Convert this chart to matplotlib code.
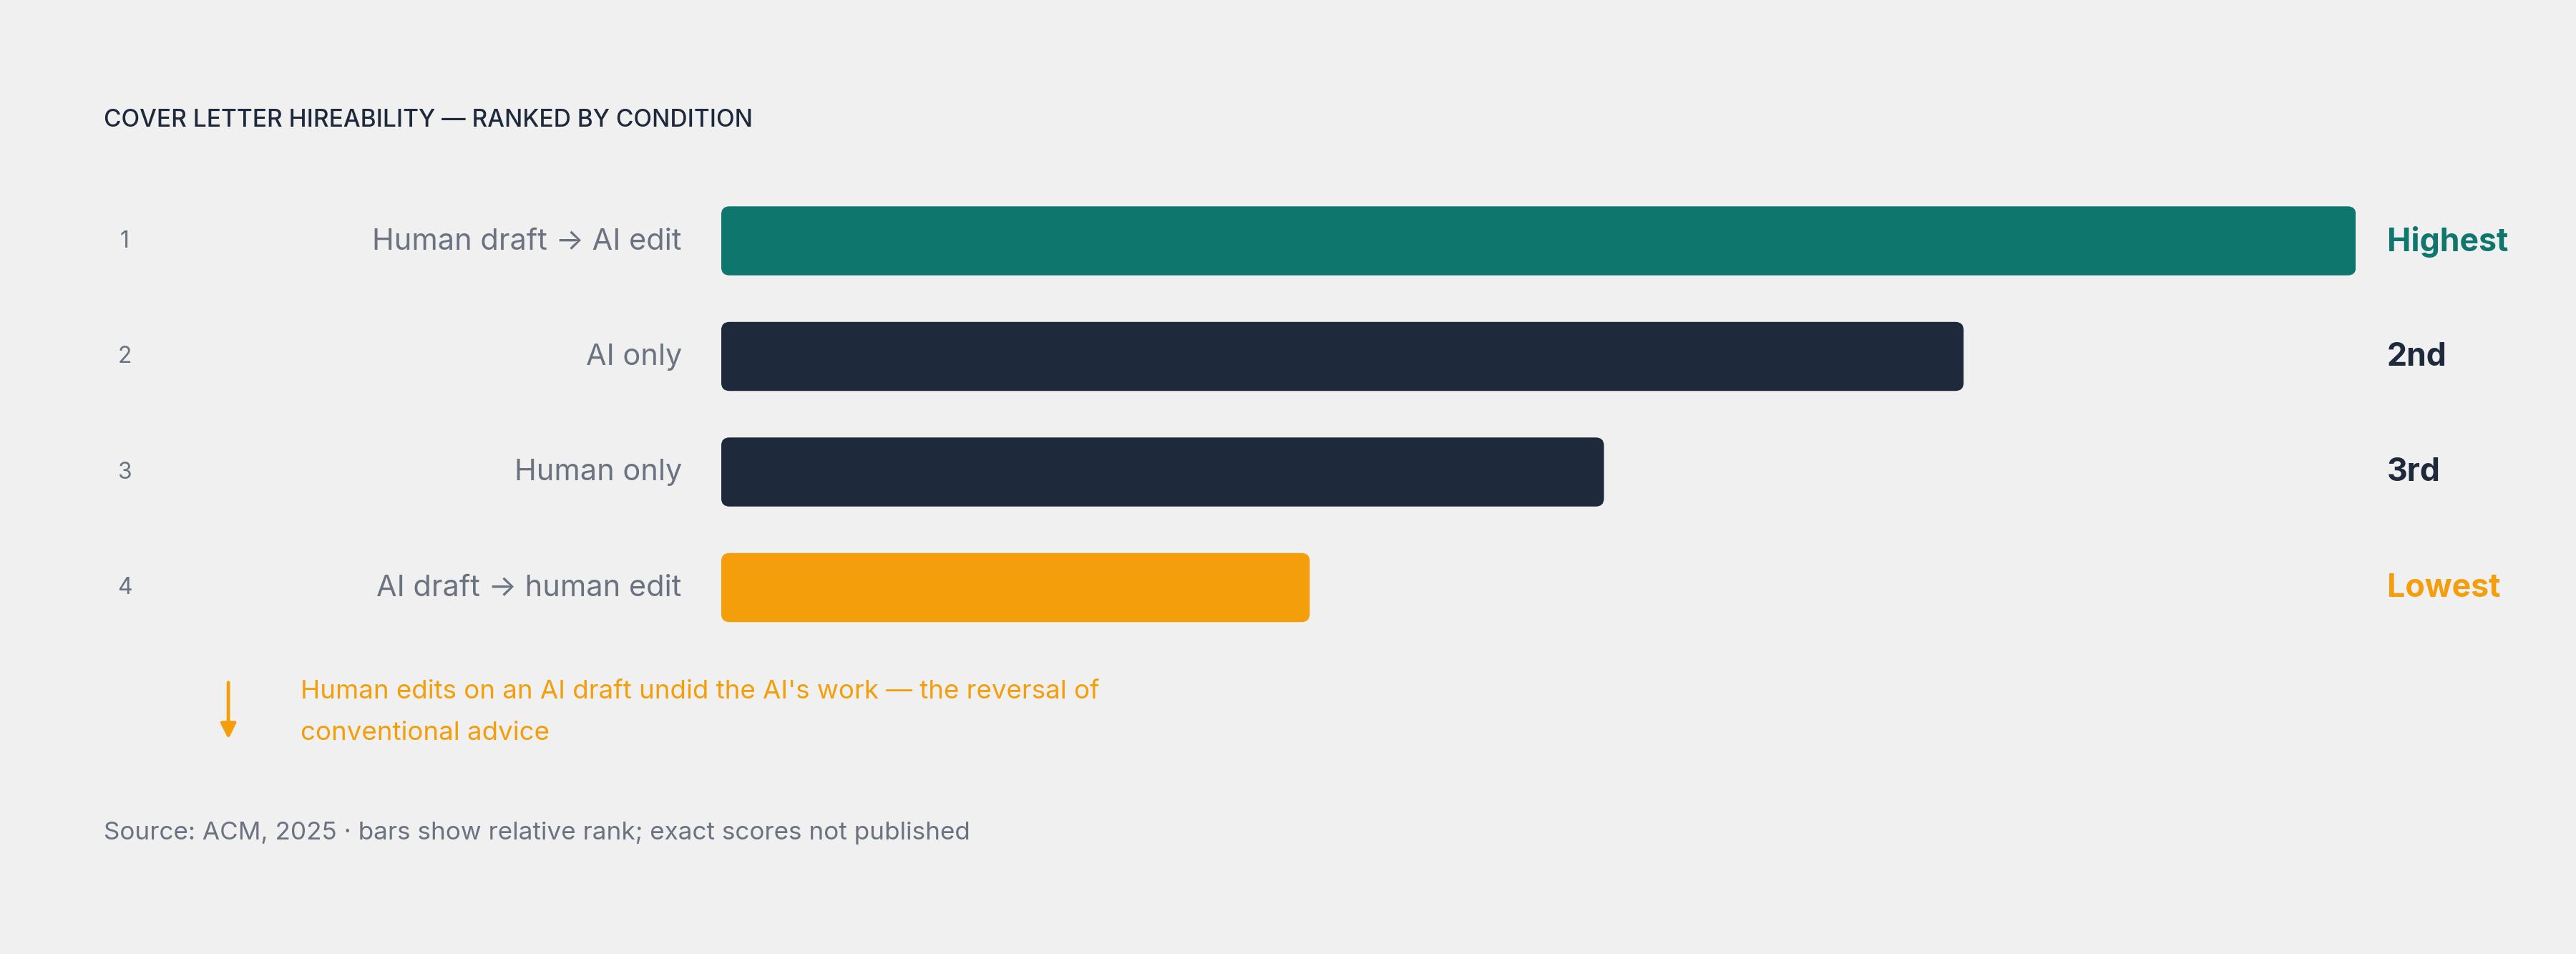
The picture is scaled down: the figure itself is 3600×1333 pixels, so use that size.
import matplotlib
matplotlib.use("Agg")
import matplotlib.pyplot as plt
from matplotlib.patches import FancyBboxPatch

plt.rcParams['font.family'] = ['Inter', 'DejaVu Sans']

ranks = ["1", "2", "3", "4"]
conditions = ["Human draft → AI edit", "AI only", "Human only", "AI draft → human edit"]
values = [100, 76, 54, 36]
right_labels = ["Highest", "2nd", "3rd", "Lowest"]
colors = ["#0F766E", "#1E293B", "#1E293B", "#F59E0B"]
label_colors = ["#0F766E", "#1E293B", "#1E293B", "#F59E0B"]

W, H = 1568, 581
fig = plt.figure(figsize=(15.68, 5.81), dpi=229.6)
fig.patch.set_facecolor("#F0F0F0")

# overlay axes in pixel coords
ov = fig.add_axes([0, 0, 1, 1])
ov.set_xlim(0, W); ov.set_ylim(H, 0); ov.axis("off")

# bar axes: x from 439 to 1434 px, rows centred 147..358
row_step = (358 - 147) / 3
top = 147 - row_step / 2
bottom = 358 + row_step / 2
ax = fig.add_axes([439 / W, 1 - bottom / H, (1434 - 439) / W, (bottom - top) / H])
ax.set_xlim(0, 100)
ax.set_ylim(3.5, -0.5)
ax.axis("off")
ax.patch.set_alpha(0)

bh = 42 / row_step
bars = ax.barh(range(len(values)), values, height=bh, color=colors)
xpx = 100 / (1434 - 439)
ypx = 1 / row_step
for b, c in zip(bars, colors):
    b.set_visible(False)
    p = FancyBboxPatch((b.get_x(), b.get_y()), b.get_width(), b.get_height(),
                       boxstyle="round,pad=0,rounding_size=0.5",
                       mutation_aspect=ypx / xpx, facecolor=c, edgecolor="none")
    ax.add_patch(p)

for i in range(len(values)):
    y = 147 + i * row_step
    ov.text(76, y, ranks[i], ha="center", va="center", fontsize=10, color="#6B7280")
    ov.text(415, y, conditions[i], ha="right", va="center", fontsize=13, color="#6B7280")
    ov.text(1453, y, right_labels[i], ha="left", va="center", fontsize=14,
            fontweight="bold", color=label_colors[i])

ov.text(63, 73, "COVER LETTER HIREABILITY — RANKED BY CONDITION", ha="left", va="center",
        fontsize=10.5, color="#1E293B", fontweight="medium")
# letter spacing emulate via ordinary text
ov.annotate("", xy=(139, 453), xytext=(139, 413),
            arrowprops=dict(arrowstyle="-|>", color="#F59E0B", lw=1.5, mutation_scale=14))
ov.text(183, 421, "Human edits on an AI draft undid the AI's work — the reversal of",
        ha="left", va="center", fontsize=11.5, color="#F59E0B")
ov.text(183, 446, "conventional advice", ha="left", va="center", fontsize=11.5, color="#F59E0B")
ov.text(63, 507, "Source: ACM, 2025 · bars show relative rank; exact scores not published",
        ha="left", va="center", fontsize=11, color="#6B7280")

fig.savefig("out.png", dpi=229.6, facecolor=fig.get_facecolor())
